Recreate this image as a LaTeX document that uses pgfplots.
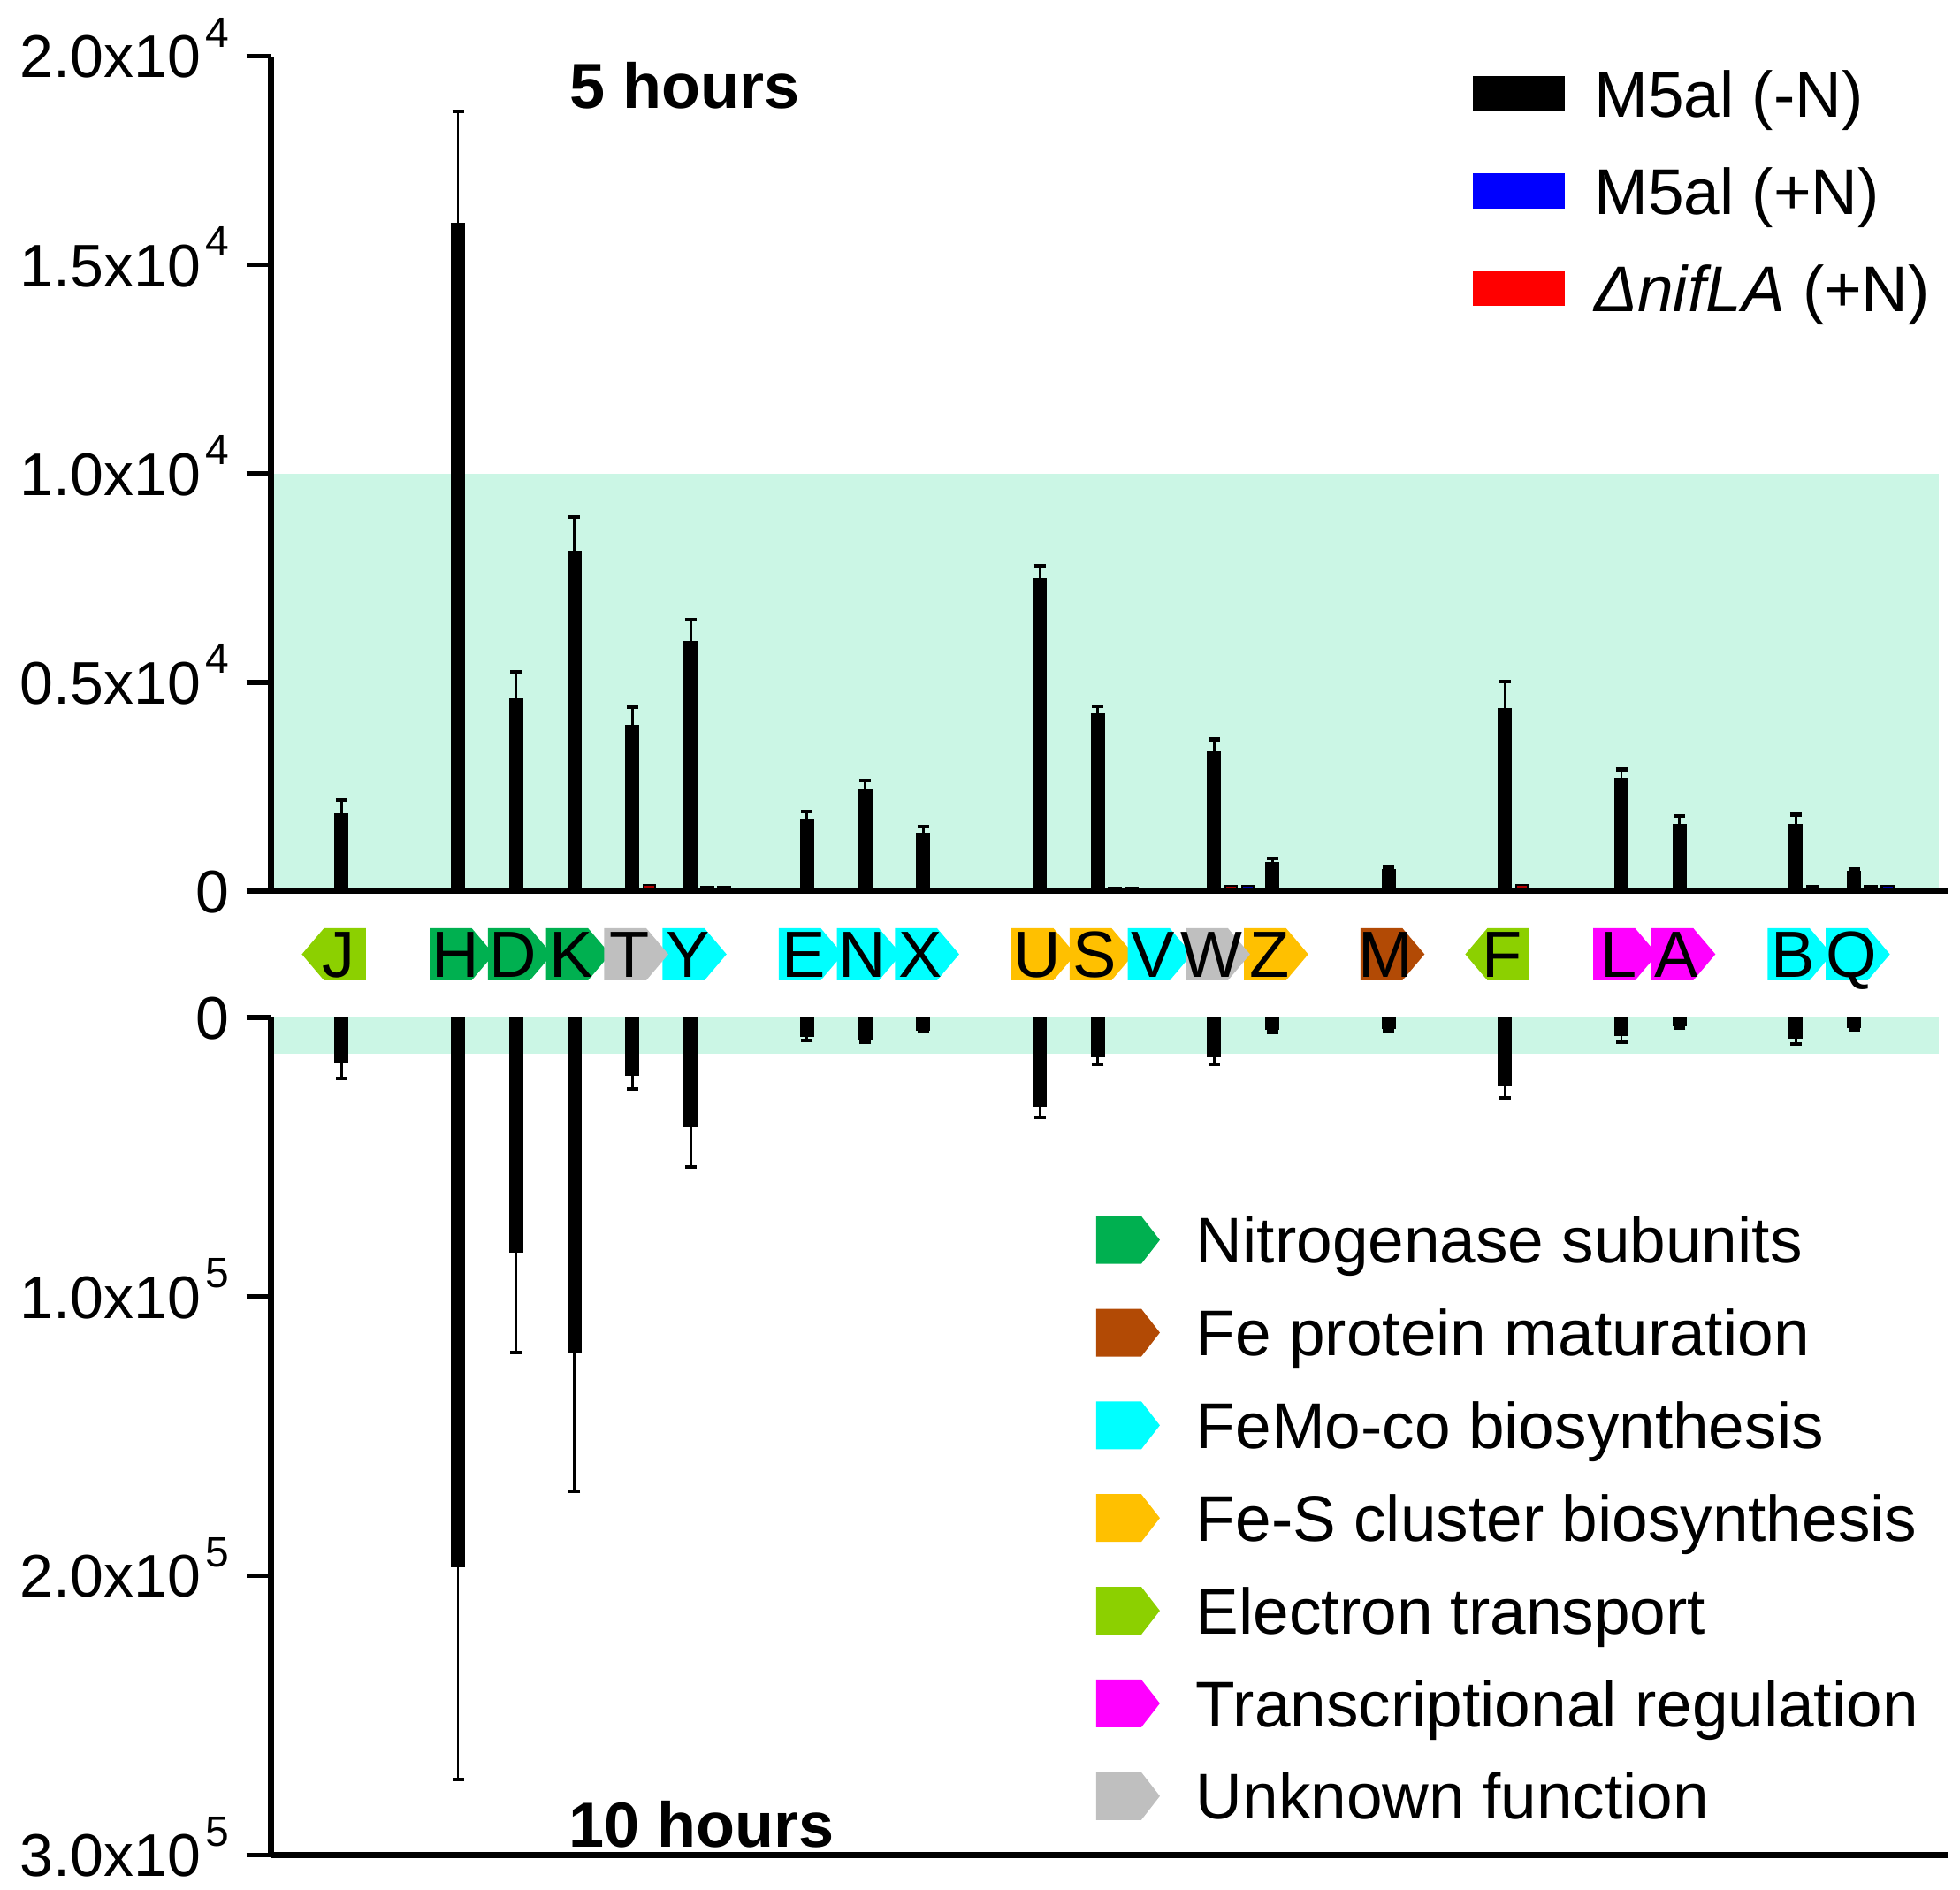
\documentclass[border=0pt]{standalone}
\usepackage{fontspec}
\setmainfont{Liberation Sans}
\usepackage{pgfplots}
\pgfplotsset{compat=1.18}
\usepackage{pgfplotstable}

\definecolor{mint}{RGB}{203,246,229}
\definecolor{nitgreen}{RGB}{0,176,80}
\definecolor{febrown}{RGB}{178,74,5}
\definecolor{femocyan}{RGB}{0,255,255}
\definecolor{fesorange}{RGB}{255,192,0}
\definecolor{etgreen}{RGB}{140,208,0}
\definecolor{tregmag}{RGB}{255,0,255}
\definecolor{unkgray}{RGB}{191,191,191}
\definecolor{barblue}{RGB}{0,0,255}
\definecolor{barred}{RGB}{255,0,0}

\newcommand\tickfont{\fontsize{13.6pt}{15pt}\selectfont}
\newcommand\legfont{\fontsize{14.6pt}{17pt}\selectfont}
\newcommand\genefont{\fontsize{14.8pt}{17pt}\selectfont}
\newcommand\hrsfont{\fontsize{14.4pt}{17pt}\selectfont\bfseries}
\newcommand\expo[1]{\hspace{1.2pt}\raisebox{6.9pt}{\fontsize{9.6pt}{10pt}\selectfont #1}}

\pgfdeclareplotmark{rarr}{%
  \pgfpathmoveto{\pgfqpoint{-6.4pt}{-5.9pt}}%
  \pgfpathlineto{\pgfqpoint{3.1pt}{-5.9pt}}%
  \pgfpathlineto{\pgfqpoint{8.1pt}{0pt}}%
  \pgfpathlineto{\pgfqpoint{3.1pt}{5.9pt}}%
  \pgfpathlineto{\pgfqpoint{-6.4pt}{5.9pt}}%
  \pgfpathclose
  \pgfusepathqfill}
\pgfdeclareplotmark{larr}{%
  \pgfpathmoveto{\pgfqpoint{5.5pt}{-5.9pt}}%
  \pgfpathlineto{\pgfqpoint{-4.0pt}{-5.9pt}}%
  \pgfpathlineto{\pgfqpoint{-9.0pt}{0pt}}%
  \pgfpathlineto{\pgfqpoint{-4.0pt}{5.9pt}}%
  \pgfpathlineto{\pgfqpoint{5.5pt}{5.9pt}}%
  \pgfpathclose
  \pgfusepathqfill}

% 5 hours, M5al (-N): value and upper error
\pgfplotstableread{
x y e
0 1850 330
2 16000 2680
3 4610 630
4 8150 810
5 3960 450
6 5980 520
8 1720 180
9 2420 230
10 1390 160
12 7480 310
13 4240 190
15 3360 270
16 680 110
18 520 40
20 4380 640
22 2700 210
23 1590 210
25 1600 230
26 470 50
}\topblack

% 5 hours, DnifLA (+N) = r (2nd bar), M5al (+N) = b (3rd bar)
\pgfplotstableread{
x r b
0 60 40
2 60 60
3 40 30
4 30 50
5 150 60
6 100 100
8 60 30
9 30 20
10 40 20
12 30 20
13 80 80
14 60 40
15 130 130
16 20 20
18 40 30
20 150 40
22 30 20
23 60 60
25 120 60
26 120 130
}\topsmall

% 10 hours, M5al (-N)
\pgfplotstableread{
x y e
0 16100 5700
2 196700 76200
3 84200 35800
4 120000 49800
5 20700 5000
6 39000 14500
8 6900 1400
9 7800 1200
10 4600 400
12 31800 4000
13 14300 2600
15 14000 2800
16 4200 1100
18 4100 900
20 24600 4200
22 6700 2100
23 3200 700
25 7400 2100
26 3800 700
}\botblack

\begin{document}
\begin{tikzpicture}
% ---------------- top panel: 5 hours ----------------
\begin{axis}[
  at={(0pt,0pt)}, anchor=south west, scale only axis,
  width=379.3pt, height=188.88pt,
  xmin=-1.214, xmax=27.61, ymin=0, ymax=20000,
  axis lines*=left, axis on top, clip=false,
  axis line style={line width=1.3pt, black},
  xtick=\empty,
  ytick={0,5000,10000,15000,20000},
  yticklabels={0,0.5x10\expo{4},1.0x10\expo{4},1.5x10\expo{4},2.0x10\expo{4}},
  scaled y ticks=false,
  tick align=outside, major tick length=5.6pt,
  tick style={line width=1.1pt, black},
  y tick label style={font=\tickfont, anchor=base east, inner sep=0pt, xshift=-3.6pt, yshift=-4.87pt},
  legend image code/.code={\fill[#1, draw=none] (0pt,1.23pt) rectangle (20.8pt,9.23pt); \path[draw=none, fill=none] (0pt,0pt) -- (27.5pt,0pt);},
  legend style={at={(axis cs:19.445,19683)}, anchor=north west, draw=none, fill=none,
    inner sep=0pt, outer sep=0pt, font=\legfont, row sep=8.2pt,
    cells={anchor=base west}, nodes={inner sep=0pt, text height=10.7pt, text depth=3.1pt}},
]
\addlegendimage{fill=black}
\addlegendentry{M5al (-N)}
\addlegendimage{fill=barblue}
\addlegendentry{M5al (+N)}
\addlegendimage{fill=barred}
\addlegendentry{{\itshape ΔnifLA} (+N)}

\addplot[fill=mint, draw=none, forget plot] coordinates {(-1.214,10000) (27.46,10000)} \closedcycle;

\addplot[ybar, bar width=0.228, bar shift=0pt, fill=black, draw=black, line width=0pt, forget plot,
  error bars/.cd, y dir=plus, y explicit,
  error bar style={draw=black, line width=0.55pt},
  error mark options={rotate=90, mark size=1.3pt, line width=0.85pt, draw=black}]
  table[x=x, y=y, y error=e] {\topblack};
\addplot[ybar, bar width=0.2, bar shift=0pt, fill=barred!70!black, draw=black, line width=0.5pt, forget plot]
  table[x expr=\thisrow{x}+0.289, y=r] {\topsmall};
\addplot[ybar, bar width=0.2, bar shift=0pt, fill=barblue!70!black, draw=black, line width=0.5pt, forget plot]
  table[x expr=\thisrow{x}+0.578, y=b] {\topsmall};

\node[font=\hrsfont, anchor=base] at (axis cs:5.9,18742) {5 hours};
\end{axis}

% ---------------- middle band: gene arrows ----------------
\begin{axis}[
  at={(0pt,-28.6pt)}, anchor=south west, scale only axis,
  width=379.3pt, height=28.6pt,
  xmin=-1.214, xmax=27.61, ymin=0, ymax=2,
  hide axis, clip=false,
]
\addplot[only marks, mark=rarr, color=nitgreen] coordinates {(2,1) (3,1) (4,1)};
\addplot[only marks, mark=rarr, color=fesorange] coordinates {(12,1) (13,1) (16,1)};
\addplot[only marks, mark=rarr, color=femocyan] coordinates {(6,1) (8,1) (9,1) (10,1) (14,1) (25,1) (26,1)};
\addplot[only marks, mark=rarr, color=unkgray] coordinates {(5,1) (15,1)};
\addplot[only marks, mark=rarr, color=febrown] coordinates {(18,1)};
\addplot[only marks, mark=larr, color=etgreen] coordinates {(0,1) (20,1)};
\addplot[only marks, mark=rarr, color=tregmag] coordinates {(22,1) (23,1)};
\addplot[draw=none, mark=none, nodes near coords, point meta=explicit symbolic,
  every node near coord/.append style={anchor=base, inner sep=0pt, text depth=0pt, font=\genefont, text=black}]
  coordinates {(-0.05,0.634)[J] (1.95,0.634)[H] (2.95,0.634)[D] (3.95,0.634)[K] (4.95,0.634)[T]
    (5.95,0.634)[Y] (7.95,0.634)[E] (8.95,0.634)[N] (9.95,0.634)[X] (11.95,0.634)[U]
    (12.95,0.634)[S] (13.95,0.634)[V] (14.95,0.634)[W] (15.95,0.634)[Z] (17.95,0.634)[M]
    (19.95,0.634)[F] (21.95,0.634)[L] (22.95,0.634)[A] (24.95,0.634)[B] (25.95,0.634)[Q]};
\end{axis}

% ---------------- bottom panel: 10 hours ----------------
\begin{axis}[
  at={(0pt,-28.56pt)}, anchor=north west, scale only axis,
  width=379.3pt, height=189.54pt,
  xmin=-1.214, xmax=27.61, ymin=0, ymax=300000, y dir=reverse,
  axis lines*=left, axis on top, clip=false,
  axis line style={line width=1.3pt, black},
  xtick=\empty,
  ytick={0,100000,200000,300000},
  yticklabels={0,1.0x10\expo{5},2.0x10\expo{5},3.0x10\expo{5}},
  scaled y ticks=false,
  tick align=outside, major tick length=5.6pt,
  tick style={line width=1.1pt, black},
  y tick label style={font=\tickfont, anchor=base east, inner sep=0pt, xshift=-3.6pt, yshift=-4.87pt},
  legend image code/.code={\fill[#1, draw=none] (0pt,-0.17pt) -- (10.2pt,-0.17pt) -- (14.4pt,5.23pt) -- (10.2pt,10.63pt) -- (0pt,10.63pt) -- cycle; \path[draw=none, fill=none] (0pt,0pt) -- (22.6pt,0pt);},
  legend style={at={(axis cs:12.971,71067)}, anchor=north west, draw=none, fill=none,
    inner sep=0pt, outer sep=0pt, font=\legfont, row sep=7.17pt,
    cells={anchor=base west}, nodes={inner sep=0pt, text height=10.7pt, text depth=3.1pt}},
]
\addlegendimage{fill=nitgreen}
\addlegendentry{Nitrogenase subunits}
\addlegendimage{fill=febrown}
\addlegendentry{Fe protein maturation}
\addlegendimage{fill=femocyan}
\addlegendentry{FeMo-co biosynthesis}
\addlegendimage{fill=fesorange}
\addlegendentry{Fe-S cluster biosynthesis}
\addlegendimage{fill=etgreen}
\addlegendentry{Electron transport}
\addlegendimage{fill=tregmag}
\addlegendentry{Transcriptional regulation}
\addlegendimage{fill=unkgray}
\addlegendentry{Unknown function}

\addplot[fill=mint, draw=none, forget plot] coordinates {(-1.214,13000) (27.46,13000)} \closedcycle;

\addplot[ybar, bar width=0.228, bar shift=0pt, fill=black, draw=black, line width=0pt, forget plot,
  error bars/.cd, y dir=plus, y explicit,
  error bar style={draw=black, line width=0.55pt},
  error mark options={rotate=90, mark size=1.3pt, line width=0.85pt, draw=black}]
  table[x=x, y=y, y error=e] {\botblack};

\node[font=\hrsfont, anchor=base] at (axis cs:6.19,297300) {10 hours};
\end{axis}

\pgfresetboundingbox
\path[use as bounding box] (-61.32pt,-225.8pt) rectangle (382.08pt,201.6pt);
\end{tikzpicture}
\end{document}
